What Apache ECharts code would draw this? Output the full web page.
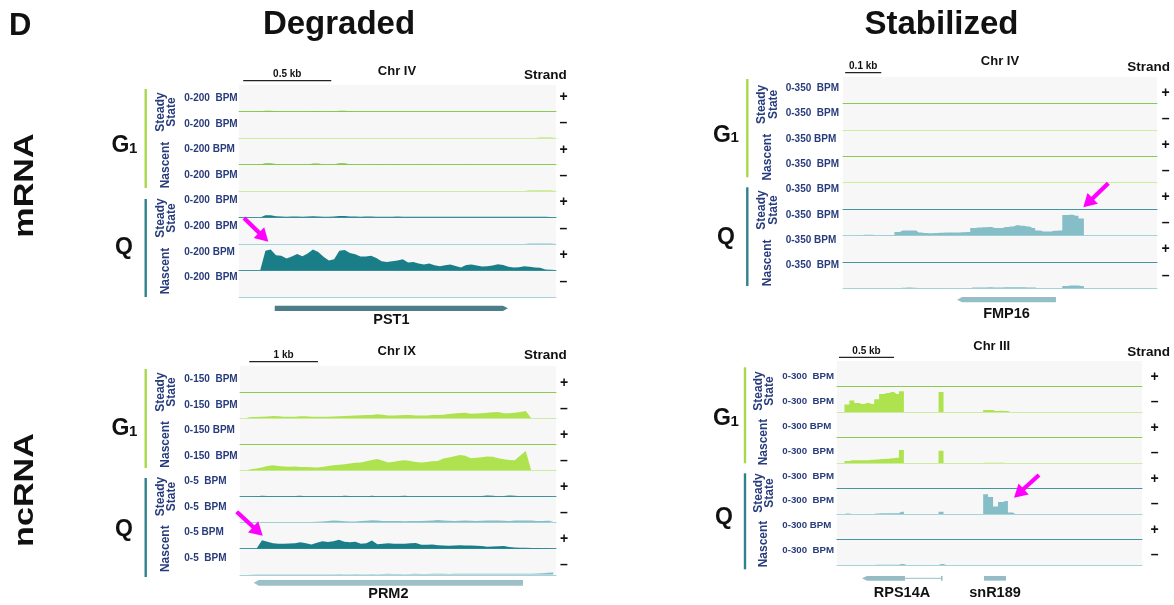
<!DOCTYPE html>
<html>
<head>
<meta charset="utf-8">
<script src="https://cdn.jsdelivr.net/npm/echarts@6.0.0/dist/echarts.min.js"></script>
<style>
  html, body { margin: 0; padding: 0; background: #ffffff; }
  #main { width: 1174px; height: 605px; }
</style>
</head>
<body>
<div id="main"></div>
<script>
// ---------------------------------------------------------------
// Coverage tracks (BPM per bin). Track order in every locus:
// G1 steady-state +/-, G1 nascent +/-, Q steady-state +/-, Q nascent +/-
// ---------------------------------------------------------------

// PST1 locus, Chr IV (mRNA, degraded) - 30 bp bins over 1800 bp
const lenPST1 = 1800, binPST1 = 30;
const maxPST1 = [200, 200, 200, 200, 200, 200, 200, 200];
const aG1SSplus = [
  0,0,0,0,0,5,5,1,0,0, 0,0,0,0,4,4,0,0,1,5, 5,1,0,0,0,0,0,0,0,0,
  0,0,0,0,0,0,0,0,0,0, 0,0,0,0,0,0,0,0,0,0, 0,0,0,0,0,0,0,0,0,0, 0];
const aG1SSminus = [
  0,0,0,0,0,0,0,0,0,0, 0,0,0,0,0,0,0,0,0,0, 0,0,0,0,0,0,0,0,0,0,
  0,0,0,0,0,0,0,0,0,0, 0,0,0,0,0,0,0,0,0,0, 0,0,0,0,0,0,0,3,3,3, 3];
const aG1Nplus = [
  0,0,0,0,0,10,10,4,0,0, 0,0,0,0,7,7,0,0,1,10, 9,1,0,0,0,0,2,3,2,2,
  3,0,0,0,0,2,0,0,0,0, 0,0,0,2,0,0,0,0,0,0, 0,0,0,0,0,0,0,0,0,0, 0];
const aG1Nminus = [
  0,0,0,0,0,0,0,0,0,0, 0,0,0,0,0,0,0,0,0,0, 0,0,0,0,0,0,0,0,0,0,
  0,0,0,0,0,0,0,0,0,0, 0,0,0,0,0,0,0,0,0,0, 0,0,0,0,0,3,3,3,3,3, 3];
const aQSSplus = [
  0,0,0,0,0,17,17,10,7,6, 7,7,6,8,10,8,6,6,8,12, 11,8,7,6,8,7,6,5,6,6,
  8,6,5,5,6,5,5,6,5,5, 6,5,5,5,6,5,5,5,6,5, 5,5,5,6,5,5,5,5,5,4, 4];
const aQSSminus = [
  0,0,0,0,0,0,0,0,0,0, 0,0,0,0,0,0,0,0,0,0, 0,0,0,0,0,0,0,0,0,0,
  0,0,0,0,0,0,0,0,0,0, 0,0,0,0,0,0,0,0,0,0, 0,0,0,0,0,4,4,4,4,4, 4];
const aQNplus = [
  0,0,0,0,0,150,158,115,112,90,
  105,125,107,128,158,140,103,76,85,150,
  155,132,122,105,105,112,95,70,64,70,
  76,85,60,65,53,45,53,40,33,40,
  45,34,22,42,45,38,30,33,38,48,
  42,28,23,25,32,28,23,20,8,5,
  3];
const aQNminus = [];

// PRM2 locus, Chr IX (ncRNA, degraded) - 80 bp bins over 4600 bp
const lenPRM2 = 4600, binPRM2 = 80;
const maxPRM2 = [150, 150, 150, 150, 5, 5, 5, 5];
const bG1SSplus = [];
const bG1SSminus = [
  0,0,7,7,8,10,13,11,9,8, 9,11,11,9,8,8,9,10,11,12,
  14,15,17,18,19,22,20,16,15,17, 19,18,16,15,16,18,19,20,24,27,
  30,32,26,27,29,31,34,36,28,29, 31,36,42,0,0,0,0,0];
const bG1Nplus = [];
const bG1Nminus = [
  0,0,6,11,17,26,29,25,23,21, 22,20,19,18,17,20,26,29,33,36,
  40,44,46,52,60,66,56,46,50,55, 58,54,48,46,48,52,54,68,74,82,
  88,84,70,72,76,80,78,70,64,60, 58,86,112,0,0,0,0,0];
const bQSSplus = [
  0,0,0,0.05,0.13,0.1,0.05,0.05,0.05,0.05, 0.08,0.13,0.06,0.05,0.05,0.05,0.05,0.05,0.06,0.13,
  0.08,0.05,0.05,0.05,0.13,0.06,0.05,0.05,0.05,0.08, 0.13,0.05,0.05,0.1,0.05,0.05,0.05,0.05,0.05,0.05,
  0.05,0.05,0.05,0.06,0.1,0.19,0.13,0.05,0.1,0.19, 0.15,0.05,0.05,0.05,0.05,0.05,0.05,0.05];
const bQSSminus = [
  0,0,0.08,0.08,0.08,0.08,0.08,0.08,0.1,0.1, 0.1,0.1,0.12,0.12,0.15,0.2,0.3,0.38,0.35,0.25,
  0.19,0.22,0.3,0.35,0.45,0.38,0.3,0.3,0.33,0.3, 0.28,0.3,0.32,0.3,0.35,0.4,0.5,0.42,0.35,0.3,
  0.35,0.38,0.35,0.3,0.35,0.4,0.42,0.38,0.35,0.33, 0.38,0.4,0.42,0.38,0.3,0.3,0.35,0.33];
const bQNplus = [
  0,0,0,0,1.62,1.34,1.05,0.96,0.96,1.01, 1.05,1.24,1.05,0.82,1.15,1.43,1.28,1.43,1.72,1.34,
  1.24,1.34,0.96,1.05,1.59,0.86,0.96,1.05,0.96,0.96, 0.96,1.05,1.1,0.76,0.76,0.82,0.67,0.63,0.57,0.61,
  0.65,0.63,0.63,0.57,0.52,0.38,0.42,0.48,0.52,0.34, 0.25,0.19,0.19,0.15,0.13,0.11,0.1,0.06];
const bQNminus = [
  0,0,0.08,0.1,0.1,0.1,0.12,0.1,0.1,0.1, 0.12,0.1,0.1,0.1,0.12,0.12,0.1,0.12,0.15,0.12,
  0.12,0.15,0.12,0.12,0.15,0.12,0.15,0.18,0.15,0.15, 0.12,0.15,0.18,0.15,0.15,0.18,0.2,0.18,0.15,0.18,
  0.2,0.18,0.2,0.22,0.2,0.18,0.2,0.22,0.2,0.18, 0.2,0.22,0.2,0.2,0.25,0.3,0.38,0.45];

// FMP16 locus, Chr IV (mRNA, stabilized) - 15 bp bins over 870 bp
const lenFMP16 = 870, binFMP16 = 15;
const maxFMP16 = [350, 350, 350, 350, 350, 350, 350, 350];
const cG1SSplus = [];
const cG1SSminus = [];
const cG1Nplus = [];
const cG1Nminus = [];
const cQSSplus = [];
const cQSSminus = [
  0,0,0,0,7,7,3,2,2,5, 46,66,66,66,40,33,30,33,36,37,
  40,40,42,46,99,106,109,110,99,97, 110,119,133,129,119,99,66,53,53,60,
  66,272,274,259,225,0,0,0,0,0, 0,0,0,0,0,0,0,0,0];
const cQNplus = [];
const cQNminus = [
  0,0,0,0,0,0,0,0,0,0, 0,6,8,6,0,0,0,0,0,0,
  0,0,0,0,8,10,10,12,10,10, 12,13,13,12,10,8,0,0,0,0,
  0,30,35,35,28,0,0,0,0,0, 0,0,0,0,0,0,0,0,0];

// RPS14A / snR189 locus, Chr III (ncRNA, stabilized) - 45 bp bins over 2770 bp
const lenSNR189 = 2770, binSNR189 = 45;
const maxSNR189 = [300, 300, 300, 300, 300, 300, 300, 300];
const dG1SSplus = [];
const dG1SSminus = [
  0,0,88,135,106,94,106,94,150,212, 223,235,212,243,0,0,0,0,0,0,
  0,235,0,0,0,0,0,0,0,0, 24,24,12,15,12,0,0,0,0,0];
const dG1Nplus = [];
const dG1Nminus = [
  0,0,24,31,31,31,33,38,42,47, 51,55,63,153,0,0,0,0,0,0,
  0,145,0,0,0,0,0,0,0,0, 3,3,2,2,0,0,0,0,0,0];
const dQSSplus = [];
const dQSSminus = [
  0,0,5,0,0,0,0,0,6,8, 10,10,10,27,0,0,0,0,0,0,
  0,27,0,0,0,0,0,0,0,0, 232,200,88,141,153,18,0,0,0,0];
const dQNplus = [];
const dQNminus = [
  0,0,0,0,0,0,0,0,4,4, 4,4,4,12,0,0,0,0,0,0,
  0,12,0,0,0,0,0,0,0,0];

// Gene models: [name, strand, exon blocks in bp]
const genesPST1 = [['PST1', '+', [[203, 1527]]]];
const genesPRM2 = [['PRM2', '-', [[199, 4120]]]];
const genesFMP16 = [['FMP16', '-', [[316, 590]]]];
const genesSNR189 = [['RPS14A', '-', [[227, 617], [945, 953]]], ['snR189', '.', [[1335, 1535]]]];

// Scale bars: [start bp, length bp]
const scalePST1 = [24, 500];
const scalePRM2 = [135, 1000];
const scaleFMP16 = [6, 100];
const scaleSNR189 = [18, 500];

// Row / column headings
const columnTitles = ['Degraded', 'Stabilized'];
const rowTitles = ['mRNA', 'ncRNA'];
const strandSigns = ['+', '–', '+', '–', '+', '–', '+', '–'];

// ---------------------------------------------------------------
// Styling and layout
// ---------------------------------------------------------------
const FONT = '"Liberation Sans", Arial, Helvetica, sans-serif';
const NAVY = '#283c7c';
const MAGENTA = '#ff00ff';
const G1_BAR = '#a8d84a';
const Q_BAR = '#2f818c';
const AREA = ['#7dc242', '#aee34f', '#7dc242', '#aee34f', '#1a7e88', '#86bec8', '#1a7e88', '#86bec8'];
const BASE = ['#8aca50', '#cdeca2', '#8aca50', '#cdeca2', '#4595a0', '#a6d2d9', '#4595a0', '#a6d2d9'];

const loci = [
  { len: lenPST1, bin: binPST1, max: maxPST1, genes: genesPST1, scale: scalePST1, chr: 'Chr IV',
    tracks: [aG1SSplus, aG1SSminus, aG1Nplus, aG1Nminus, aQSSplus, aQSSminus, aQNplus, aQNminus],
    step: false, left: 239, width: 317, top: 85, trackH: 26.5,
    geneY: 308.3, geneH: 5.3, geneColor: '#4b7e89', geneLabelDy: 11.5, scaleY: 80.7,
    chrX: 397, chrY: 71.7, strandX: 566.7, strandY: 75,
    labelX: 184.3, labelY0: 98.3, labelStep: 25.6, labelSize: 10,
    signX: 563.5, signY0: 97, signStep: 26.4,
    barX: 145.7, g1Bar: [89, 188], qBar: [199, 297],
    gRight: 129.5, gBase: 154, qX: 124, qBase: 256, groupX: 166, groupDy: 0.5,
    arrow: [[244, 218], [268.3, 241.7]] },
  { len: lenPRM2, bin: binPRM2, max: maxPRM2, genes: genesPRM2, scale: scalePRM2, chr: 'Chr IX',
    tracks: [bG1SSplus, bG1SSminus, bG1Nplus, bG1Nminus, bQSSplus, bQSSminus, bQNplus, bQNminus],
    step: false, left: 240, width: 316, top: 366, trackH: 26.1,
    geneY: 582.8, geneH: 5.7, geneColor: '#9cc0c8', geneLabelDy: 11, scaleY: 361.7,
    chrX: 396.7, chrY: 351.7, strandX: 566.7, strandY: 355,
    labelX: 184.3, labelY0: 379.3, labelStep: 25.5, labelSize: 10,
    signX: 564, signY0: 382.7, signStep: 26,
    barX: 145.7, g1Bar: [369, 468], qBar: [478, 577],
    gRight: 129.5, gBase: 436.5, qX: 124, qBase: 538, groupX: 166, groupDy: 0,
    arrow: [[236.7, 511.7], [262.7, 535.7]] },
  { len: lenFMP16, bin: binFMP16, max: maxFMP16, genes: genesFMP16, scale: scaleFMP16, chr: 'Chr IV',
    tracks: [cG1SSplus, cG1SSminus, cG1Nplus, cG1Nminus, cQSSplus, cQSSminus, cQNplus, cQNminus],
    step: 'middle', left: 843, width: 314, top: 77, trackH: 26.4,
    geneY: 299.7, geneH: 5.3, geneColor: '#95bfc8', geneLabelDy: 14, scaleY: 72.7,
    chrX: 1000, chrY: 61.7, strandX: 1170, strandY: 67.3,
    labelX: 785.7, labelY0: 88.3, labelStep: 25.3, labelSize: 10,
    signX: 1165.7, signY0: 93, signStep: 26.1,
    barX: 747.3, g1Bar: [79, 177.3], qBar: [187.3, 286],
    gRight: 731, gBase: 143.3, qX: 726, qBase: 246, groupX: 767.5, groupDy: 1,
    arrow: [[1108.3, 183.3], [1083.3, 207.3]] },
  { len: lenSNR189, bin: binSNR189, max: maxSNR189, genes: genesSNR189, scale: scaleSNR189, chr: 'Chr III',
    tracks: [dG1SSplus, dG1SSminus, dG1Nplus, dG1Nminus, dQSSplus, dQSSminus, dQNplus, dQNminus],
    step: 'middle', left: 837, width: 305, top: 361, trackH: 25.5,
    geneY: 578.3, geneH: 4.7, geneColor: '#95bcc5', geneLabelDy: 15, scaleY: 357.3,
    chrX: 991.7, chrY: 346.7, strandX: 1170, strandY: 352.3,
    labelX: 782.3, labelY0: 376.7, labelStep: 24.8, labelSize: 9.7,
    signX: 1154.7, signY0: 376.7, signStep: 25.5,
    barX: 745, g1Bar: [367.3, 463.3], qBar: [473.3, 569.3],
    gRight: 731, gBase: 426.7, qX: 724, qBase: 526, groupX: 764, groupDy: 4.5,
    arrow: [[1039, 475], [1014, 497.7]] }
];

function txt(x, y, text, size, opts) {
  opts = opts || {};
  const align = opts.align || 'center';
  const valign = opts.valign || 'middle';
  return {
    type: 'text', z: 100, silent: true, x: x, y: y,
    rotation: opts.rotation || 0, scaleX: opts.scaleX || 1,
    style: {
      text: text, fill: opts.color || '#111111',
      font: (opts.weight || 'bold') + ' ' + size + 'px ' + FONT,
      align: align, textAlign: align, verticalAlign: valign, textVerticalAlign: valign,
      lineHeight: opts.lineHeight
    }
  };
}

function arrowShape(from, to) {
  const dx = to[0] - from[0], dy = to[1] - from[1];
  const len = Math.hypot(dx, dy);
  const ux = dx / len, uy = dy / len, nx = -uy, ny = ux;
  const hl = 13, hw = 7.5;
  const bx = to[0] - ux * hl, by = to[1] - uy * hl;
  return [
    { type: 'line', z: 100, silent: true,
      shape: { x1: from[0], y1: from[1], x2: bx + ux * 2, y2: by + uy * 2 },
      style: { stroke: MAGENTA, lineWidth: 4.2 } },
    { type: 'polygon', z: 100, silent: true,
      shape: { points: [to, [bx + nx * hw, by + ny * hw], [bx - nx * hw, by - ny * hw]] },
      style: { fill: MAGENTA } }
  ];
}

function renderGene(locus, gene, api) {
  const strand = gene[1], exons = gene[2];
  const yc = api.coord([0, 0.5])[1];
  const h = locus.geneH;
  const px = exons.map(e => [api.coord([e[0], 0.5])[0], api.coord([e[1], 0.5])[0]]);
  const children = [];
  for (let i = 0; i < px.length - 1; i++) {
    children.push({ type: 'line', shape: { x1: px[i][1], y1: yc, x2: px[i + 1][0], y2: yc },
      style: { stroke: locus.geneColor, lineWidth: 1 } });
  }
  px.forEach((p, i) => {
    const x0 = p[0], w = Math.max(p[1] - p[0], 1.5), x1 = x0 + w;
    const tipL = strand === '-' && i === 0;
    const tipR = strand === '+' && i === px.length - 1;
    const a = Math.min(5, w / 3);
    const pts = [[tipL ? x0 + a : x0, yc - h / 2], [tipR ? x1 - a : x1, yc - h / 2]];
    if (tipR) pts.push([x1, yc]);
    pts.push([tipR ? x1 - a : x1, yc + h / 2], [tipL ? x0 + a : x0, yc + h / 2]);
    if (tipL) pts.push([x0, yc]);
    children.push({ type: 'polygon', shape: { points: pts }, style: { fill: locus.geneColor } });
  });
  const cx = (px[0][0] + px[px.length - 1][1]) / 2;
  children.push({ type: 'text', style: {
    text: gene[0], x: cx, y: yc + locus.geneLabelDy, fill: '#111111',
    font: 'bold 14.5px ' + FONT, align: 'center', textAlign: 'center',
    verticalAlign: 'middle', textVerticalAlign: 'middle' } });
  return { type: 'group', children: children };
}

function renderScale(locus, api) {
  const s = locus.scale;
  const p0 = api.coord([s[0], 0.5]), p1 = api.coord([s[0] + s[1], 0.5]);
  return { type: 'group', children: [
    { type: 'line', shape: { x1: p0[0], y1: p0[1], x2: p1[0], y2: p1[1] },
      style: { stroke: '#222222', lineWidth: 1.2 } },
    { type: 'text', style: {
      text: (s[1] / 1000) + ' kb', x: (p0[0] + p1[0]) / 2, y: p0[1] - 6, fill: '#111111',
      font: 'bold 10px ' + FONT, align: 'center', textAlign: 'center',
      verticalAlign: 'middle', textVerticalAlign: 'middle' } }
  ] };
}

const grids = [], xAxes = [], yAxes = [], series = [], elements = [];

function addGrid(left, top, width, height, xMax, yMax, bg, baseColor) {
  const gi = grids.length;
  grids.push({ left: left, top: top, width: width, height: height,
    show: !!bg, backgroundColor: bg || 'transparent', borderWidth: 0 });
  xAxes.push({ gridIndex: gi, type: 'value', min: 0, max: xMax,
    axisLine: { show: !!baseColor, onZero: false, lineStyle: { color: baseColor || '#000', width: 1 } },
    axisTick: { show: false }, axisLabel: { show: false }, splitLine: { show: false } });
  yAxes.push({ gridIndex: gi, type: 'value', min: 0, max: yMax, show: false,
    splitLine: { show: false } });
  return gi;
}

loci.forEach(L => {
  // coverage tracks
  L.tracks.forEach((vals, t) => {
    const gi = addGrid(L.left, L.top + t * L.trackH, L.width, L.trackH, L.len, L.max[t], '#f7f7f7', BASE[t]);
    series.push({
      type: 'line', xAxisIndex: gi, yAxisIndex: gi, silent: true, animation: false,
      data: vals.map((v, i) => [i * L.bin, v]),
      step: L.step, symbol: 'none', showSymbol: false,
      lineStyle: { width: 0 }, areaStyle: { color: AREA[t], opacity: 1 }
    });
    // range label and strand sign
    const spacer = (t % 4 === 2) ? ' ' : '  ';
    elements.push(txt(L.labelX, L.labelY0 + t * L.labelStep, '0-' + L.max[t] + spacer + 'BPM',
      L.labelSize, { align: 'left', color: NAVY }));
    elements.push(txt(L.signX, L.signY0 + t * L.signStep, strandSigns[t], 14));
  });

  // gene annotation row
  const gg = addGrid(L.left, L.geneY - 5, L.width, 10, L.len, 1, null, null);
  series.push({
    type: 'custom', xAxisIndex: gg, yAxisIndex: gg, silent: true, animation: false, clip: false,
    data: L.genes.map(g => [g[2][0][0], g[2][g[2].length - 1][1]]),
    encode: { x: [0, 1] },
    renderItem: (params, api) => renderGene(L, L.genes[params.dataIndex], api)
  });

  // scale bar row
  const gs = addGrid(L.left, L.scaleY - 5, L.width, 10, L.len, 1, null, null);
  series.push({
    type: 'custom', xAxisIndex: gs, yAxisIndex: gs, silent: true, animation: false, clip: false,
    data: [[L.scale[0], L.scale[0] + L.scale[1]]],
    encode: { x: [0, 1] },
    renderItem: (params, api) => renderScale(L, api)
  });

  // headings for the locus
  elements.push(txt(L.chrX, L.chrY, L.chr, 13));
  elements.push(txt(L.strandX, L.strandY, 'Strand', 13.5, { align: 'right' }));

  // condition bars and labels
  elements.push({ type: 'rect', z: 100, silent: true,
    shape: { x: L.barX - 1.2, y: L.g1Bar[0], width: 2.4, height: L.g1Bar[1] - L.g1Bar[0] },
    style: { fill: G1_BAR } });
  elements.push({ type: 'rect', z: 100, silent: true,
    shape: { x: L.barX - 1.2, y: L.qBar[0], width: 2.4, height: L.qBar[1] - L.qBar[0] },
    style: { fill: Q_BAR } });
  elements.push(txt(L.gRight, L.gBase - 8, 'G', 23, { align: 'right' }));
  elements.push(txt(L.gRight - 0.5, L.gBase - 5, '1', 15, { align: 'left' }));
  elements.push(txt(L.qX, L.qBase - 8, 'Q', 23));

  // library labels (steady state / nascent), rotated
  [0, 2, 4, 6].forEach(t => {
    const cy = L.top + (t + 1) * L.trackH + L.groupDy;
    const label = (t % 4 === 0) ? 'Steady\nState' : 'Nascent';
    elements.push(txt(L.groupX, cy, label, 12, { rotation: Math.PI / 2, color: NAVY, lineHeight: 11.5 }));
  });

  // highlight arrow
  arrowShape(L.arrow[0], L.arrow[1]).forEach(e => elements.push(e));
});

// figure-level headings
elements.push(txt(9, 26, 'D', 31, { align: 'left' }));
elements.push(txt(339, 25, columnTitles[0], 33));
elements.push(txt(941.5, 25, columnTitles[1], 33));
elements.push(txt(25, 185.5, rowTitles[0], 28, { rotation: Math.PI / 2, scaleX: 1.22 }));
elements.push(txt(25, 490, rowTitles[1], 28, { rotation: Math.PI / 2, scaleX: 1.22 }));

const chart = echarts.init(document.getElementById('main'), null, { renderer: 'canvas', width: 1174, height: 605 });
chart.setOption({
  animation: false,
  backgroundColor: '#ffffff',
  grid: grids,
  xAxis: xAxes,
  yAxis: yAxes,
  series: series,
  graphic: { elements: elements }
});
</script>
</body>
</html>
